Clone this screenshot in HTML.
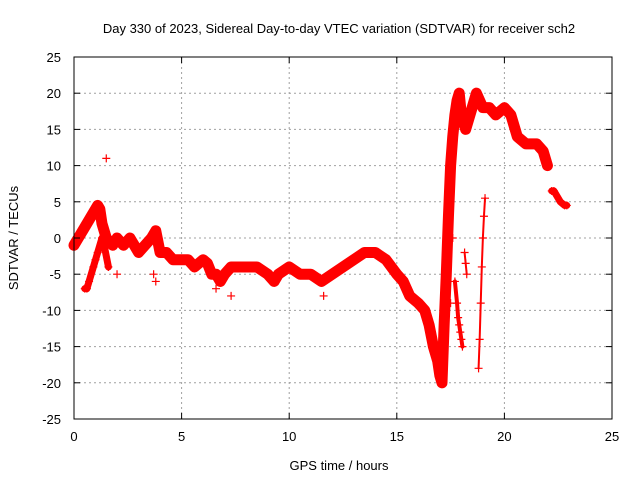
<!DOCTYPE html>
<html><head><meta charset="utf-8"><style>
body{margin:0;background:#fff;}
svg{display:block;font-family:"Liberation Sans",sans-serif;}
</style></head><body>
<svg id="chart" width="640" height="480">
<text x="339" y="33" font-size="13" text-anchor="middle">Day 330 of 2023, Sidereal Day-to-day VTEC variation (SDTVAR) for receiver sch2</text>
<text x="339" y="470" font-size="13" text-anchor="middle">GPS time / hours</text>
<text transform="translate(18,238) rotate(-90)" font-size="13" text-anchor="middle">SDTVAR / TECUs</text>
<g id="grid"></g><g id="marks"></g><g id="axes"></g>
</svg>
<script>
const xTicks=[0,5,10,15,20,25];
const yTicks=[-25,-20,-15,-10,-5,0,5,10,15,20,25];
const mainT=[0,0.2,0.4,0.6,0.8,1.0,1.1,1.2,1.3,1.5,1.8,2.0,2.3,2.6,3.0,3.3,3.6,3.8,4.0,4.3,4.6,5.0,5.3,5.6,6.0,6.2,6.4,6.6,6.8,7.0,7.3,7.6,8.0,8.5,9.0,9.3,9.5,10.0,10.5,11.0,11.5,12.0,12.5,13.0,13.5,14.0,14.5,15.0,15.3,15.6,16.0,16.3,16.5,16.7,16.9,17.0,17.1,17.2,17.3,17.4,17.5,17.6,17.7,17.8,17.9,18.0,18.2,18.5,18.7,19.0,19.3,19.6,20.0,20.3,20.6,21.0,21.5,21.8,22.0];
const mainV=[-1,0,1,2,3,4,4.5,4,2,0,-1,0,-1,0,-2,-1,0,1,-2,-2,-3,-3,-3,-4,-3,-3.5,-5,-5,-6,-5,-4,-4,-4,-4,-5,-6,-5,-4,-5,-5,-6,-5,-4,-3,-2,-2,-3,-5,-6,-8,-9,-10,-12,-15,-17,-19,-20,-12,-5,3,10,14,17,19,20,17,15,18,20,18,18,17,18,17,14,13,13,12,10];
const tailT=[22.2,22.3,22.6,22.8,22.9];
const tailV=[6.5,6.5,5,4.5,4.5];
const earlyT=[0.5,0.6,0.7,0.9,1.0,1.1,1.3,1.4,1.6];
const earlyV=[-7,-7,-6,-4,-3,-2,0,-1,-4];
const spike1T=[17.7,17.8,17.85,17.9,17.95,18.0,18.05];
const spike1V=[-6,-9,-11,-12,-13,-14,-15];
const spike2T=[18.15,18.2,18.25];
const spike2V=[-2,-3.5,-5];
const spike3T=[18.8,18.85,18.9,18.95,19.0,19.05,19.1];
const spike3V=[-18,-14,-9,-4,0,3,5.5];
const outT=[1.5,2.0,3.7,3.8,6.6,7.3,11.6,17.2,17.5,17.6];
const outV=[11,-5,-5,-6,-7,-8,-8,-14,-9,0];
const NS="http://www.w3.org/2000/svg";
const X0=74,X1=612,Y0=419,Y1=57;
function xs(t){return X0+(t-0)/(25-0)*(X1-X0);}
function ys(v){return Y0-(v+25)/50*(Y0-Y1);}
function mk(tag,at,parent){const e=document.createElementNS(NS,tag);for(const k in at)e.setAttribute(k,at[k]);parent.appendChild(e);return e;}
const grid=document.getElementById('grid'),marks=document.getElementById('marks'),axes=document.getElementById('axes');
xTicks.forEach(t=>{
  if(t>0&&t<25){const g=mk('line',{x1:xs(t),x2:xs(t),y1:Y0,y2:Y1,stroke:'#a0a0a0','stroke-dasharray':'2,3'},grid);
  
  }
  const l=mk('text',{x:xs(t),y:Y0+22,'font-size':13,'text-anchor':'middle'},axes);l.textContent=t;
  
  
  mk('line',{x1:xs(t),x2:xs(t),y1:Y0,y2:Y0-6,stroke:'#000'},axes);
  mk('line',{x1:xs(t),x2:xs(t),y1:Y1,y2:Y1+6,stroke:'#000'},axes);
});
yTicks.forEach(v=>{
  if(v>-25&&v<25){const g=mk('line',{x1:X0,x2:X1,y1:ys(v),y2:ys(v),stroke:'#a0a0a0','stroke-dasharray':'2,3'},grid);
  
  }
  const l=mk('text',{x:X0-13,y:ys(v)+5,'font-size':13,'text-anchor':'end'},axes);l.textContent=v;
  
  
  mk('line',{x1:X0,x2:X0+6,y1:ys(v),y2:ys(v),stroke:'#000'},axes);
  mk('line',{x1:X1,x2:X1-6,y1:ys(v),y2:ys(v),stroke:'#000'},axes);
});
const fr=mk('rect',{x:X0,y:Y1,width:X1-X0,height:Y0-Y1,fill:'none',stroke:'#000'},axes);


function series(T,V,name,w){
  if(w>0){const p=mk('polyline',{points:T.map((t,i)=>xs(t)+','+ys(V[i])).join(' '),fill:'none',stroke:'#f00','stroke-width':w,'stroke-linejoin':'round','stroke-linecap':'round'},marks);
  
  }
  T.forEach((t,i)=>{const x=xs(t),y=ys(V[i]);
    const m=mk('path',{d:`M${x-4},${y}H${x+4}M${x},${y-4}V${y+4}`,stroke:'#f00','stroke-width':1.2},marks);
    
    });
}
series(mainT,mainV,'main-series',11);
series(tailT,tailV,'tail-series',7);
series(earlyT,earlyV,'early-series',7);
series(spike1T,spike1V,'spike1-series',4);
series(spike2T,spike2V,'spike2-series',2);
series(spike3T,spike3V,'spike3-series',2);
series(outT,outV,'outlier',0);
</script>
</body></html>
